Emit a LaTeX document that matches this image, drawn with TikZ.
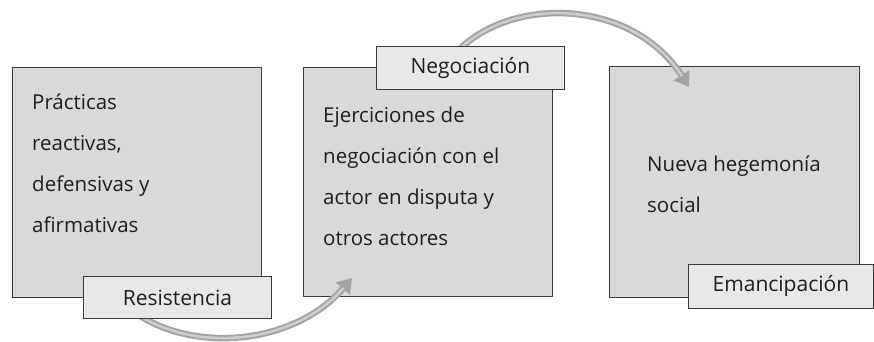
\documentclass[tikz,border=0pt]{standalone}
\usepackage{fontspec}
\setmainfont{Open Sans}
\usetikzlibrary{arrows.meta}
\definecolor{boxfill}{HTML}{D8D9DB}
\definecolor{tagfill}{HTML}{E7E8EA}
\definecolor{edgecol}{HTML}{3A3A3A}
\definecolor{inkcol}{HTML}{1E1E1E}
\definecolor{arrowdark}{HTML}{A3A3A3}
\definecolor{arrowlight}{HTML}{CDCDCD}
\tikzset{
  bigbox/.style={draw=edgecol, fill=boxfill, line width=0.8pt, rectangle, anchor=north west, inner sep=0pt},
  tagbox/.style={draw=edgecol, fill=tagfill, line width=0.8pt, rectangle, anchor=north west, inner sep=0pt,
    text=inkcol, font=\fontsize{21}{24}\selectfont},
  txt/.style={align=left, inner sep=0pt, anchor=base west, text=inkcol, font=\fontsize{20.5}{41}\selectfont},
  flowouter/.style={draw=arrowdark, line width=6.5pt, -{Triangle[length=14pt,width=18pt]}},
  flowinner/.style={draw=arrowlight, line width=2.5pt, shorten >=13pt},
}
\begin{document}
\begin{tikzpicture}[x=1pt,y=-1pt]
\useasboundingbox (0,0) rectangle (874,341);
% boxes
\node[bigbox, minimum width=249pt, minimum height=230pt] (b1) at (12,67) {};
\node[bigbox, minimum width=249pt, minimum height=229pt] (b2) at (303,67) {};
\node[bigbox, minimum width=250pt, minimum height=231pt] (b3) at (609,66) {};
% texts (anchored at the baseline of the last line)
\node[txt] (t1) at (32,232) {Prácticas\\reactivas,\\defensivas y\\afirmativas};
\node[txt] (t2) at (323,245) {Ejerciciones de\\negociación con el\\actor en disputa y\\otros actores};
\node[txt] (t3) at (647,212) {Nueva hegemonía\\social};
% arrows
\coordinate (a1s) at (120,300);
\coordinate (a1e) at (352,278);
\coordinate (a2s) at (450,60);
\coordinate (a2e) at (689,87);
\draw[flowouter] (a1s) .. controls (175,355) and (290,350) .. (a1e);
\draw[flowinner] (a1s) .. controls (175,355) and (290,350) .. (a1e);
\draw[flowouter] (a2s) .. controls (500,-5) and (630,-5) .. (a2e);
\draw[flowinner] (a2s) .. controls (500,-5) and (630,-5) .. (a2e);
% tags
\node[tagbox, minimum width=188pt, minimum height=42pt] (l1) at (83,276) {Resistencia\hspace{10pt}};
\node[tagbox, minimum width=188pt, minimum height=43pt] (l2) at (376,46) {Negociación\hspace{22pt}};
\node[tagbox, minimum width=185pt, minimum height=44pt] (l3) at (688,264) {Emancipación};
\end{tikzpicture}
\end{document}
